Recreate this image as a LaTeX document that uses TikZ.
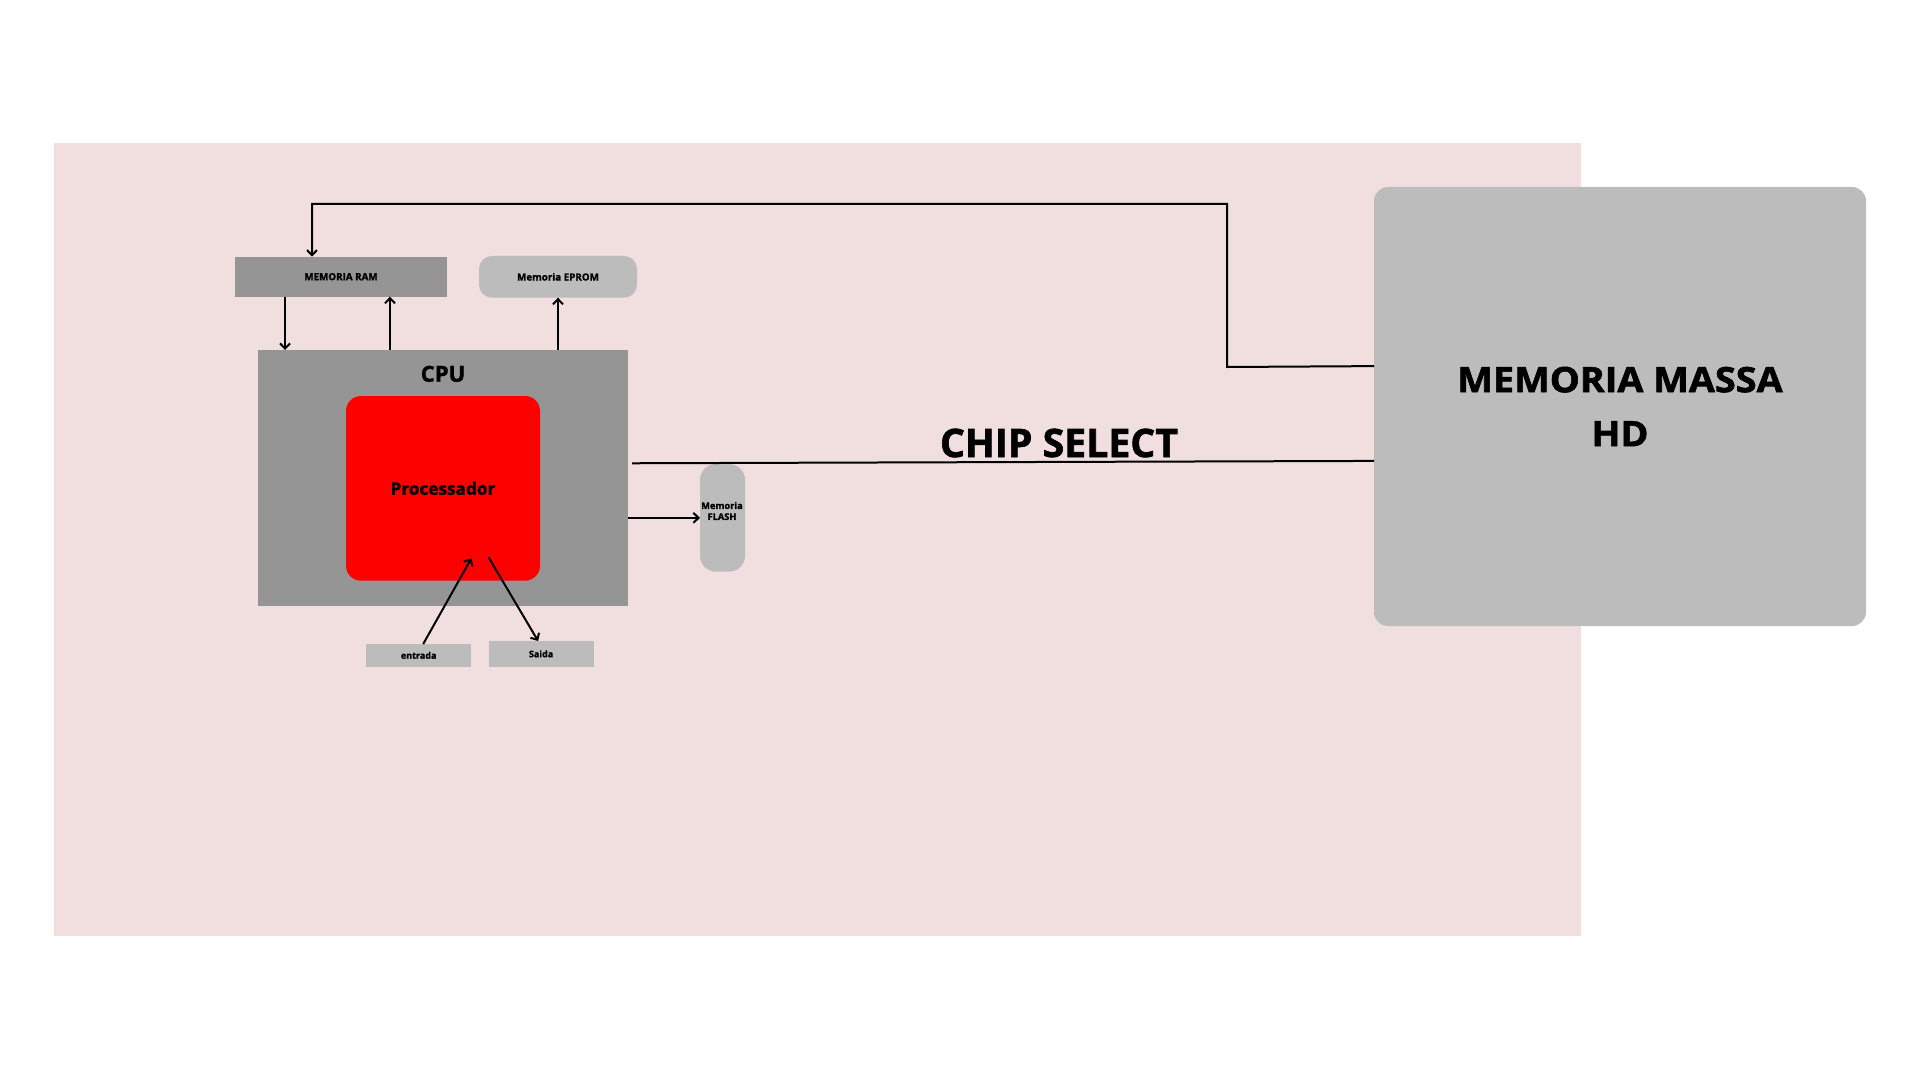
\documentclass[tikz,border=0pt]{standalone}
\usepackage{fontspec}
\setmainfont{Open Sans}[BoldFeatures={FakeBold=1.6}]
\usetikzlibrary{arrows.meta,calc}
\definecolor{bgpink}{HTML}{F1DEDF}
\definecolor{lightgrey}{HTML}{BCBCBC}
\definecolor{midgrey}{HTML}{959595}
\definecolor{procred}{HTML}{FD0000}
\tikzset{
  box/.style={inner sep=0pt, outer sep=0pt, text=black, align=center},
  arr/.style={-{Straight Barb[length=2.6pt,width=5pt]}, line width=1pt, black},
  wire/.style={line width=1pt, black},
}
\begin{document}
\begin{tikzpicture}[x=0.5pt,y=-0.5pt]
\useasboundingbox (0,0) rectangle (1920,1080);
\fill[bgpink] (54,143) rectangle (1581,936);

% nodes
\node[box, fill=lightgrey, rounded corners=7pt, minimum width=246pt, minimum height=219.5pt,
      font=\fontsize{17.5}{27}\selectfont\bfseries] (massa) at (1620,406.5) {\scalebox{1.08}[1]{MEMORIA MASSA}\\\scalebox{1.08}[1]{HD}};
\node[box, fill=midgrey, minimum width=185pt, minimum height=127.85pt] (cpu) at (443,477.85) {};
\node[box, anchor=base, font=\fontsize{11}{13}\selectfont\bfseries] (cpulabel) at (443,381.7) {CPU};
\node[box, fill=procred, rounded corners=7.5pt, minimum width=97pt, minimum height=92.35pt,
      font=\fontsize{8.6}{10}\selectfont\bfseries] (proc) at (443,488.35) {Processador};
\node[box, fill=midgrey, minimum width=106pt, minimum height=20pt,
      font=\fontsize{4.9}{6}\selectfont\bfseries] (ram) at (341,276.7) {MEMORIA RAM};
\node[box, fill=lightgrey, rounded corners=6.5pt, minimum width=79pt, minimum height=20.85pt,
      font=\fontsize{4.9}{6}\selectfont\bfseries] (eprom) at (558,276.85) {Memoria EPROM};
\node[box, fill=lightgrey, rounded corners=8pt, minimum width=22.5pt, minimum height=53.85pt] (flash) at (722.5,517.85) {};
\node[box, font=\fontsize{4.6}{5.5}\selectfont\bfseries] (flashlabel) at (722,511) {Memoria\\FLASH};
\node[box, fill=lightgrey, minimum width=52.7pt, minimum height=11.35pt,
      font=\fontsize{4.5}{5.5}\selectfont\bfseries] (entrada) at (418.7,655.35) {entrada};
\node[box, fill=lightgrey, minimum width=52.5pt, minimum height=12.85pt,
      font=\fontsize{4.5}{5.5}\selectfont\bfseries] (saida) at (541.1,653.85) {Saida};
\node[box, anchor=base, font=\fontsize{19.6}{22}\selectfont\bfseries] (chiplabel) at (1059,457) {CHIP SELECT};

% connector coordinates
\coordinate (hdout) at ($(massa.north west)!0.408!(massa.south west)$);
\coordinate (k1) at (1227,367);
\coordinate (k2) at (1227,204);
\coordinate (k3) at (312,204);
\coordinate (ramdown) at ($(ram.south west)!0.236!(ram.south east)$);
\coordinate (ramup) at ($(ram.south west)!0.731!(ram.south east)$);
\coordinate (csstart) at ($(cpu.north east)!0.443!(cpu.south east)+(2pt,0)$);
\coordinate (csend) at ($(massa.north west)!0.624!(massa.south west)$);
\coordinate (pin) at (471.4,558.3);
\coordinate (pout) at (488.6,557.3);

% connectors
\draw[arr] (hdout) -- (k1) -- (k2) -- (k3) -- (k3 |- ram.north);
\draw[arr] (ramdown) -- (ramdown |- cpu.north);
\draw[arr] (ramup |- cpu.north) -- (ramup);
\draw[arr] (eprom.south |- cpu.north) -- (eprom.south);
\draw[wire] (csstart) -- (csend);
\draw[arr] (cpu.east |- flash.west) -- (flash.west);
\draw[arr] ([xshift=2.25pt]entrada.north) -- (pin);
\draw[arr] (pout) -- ([xshift=-1.5pt]saida.north);
\end{tikzpicture}
\end{document}
